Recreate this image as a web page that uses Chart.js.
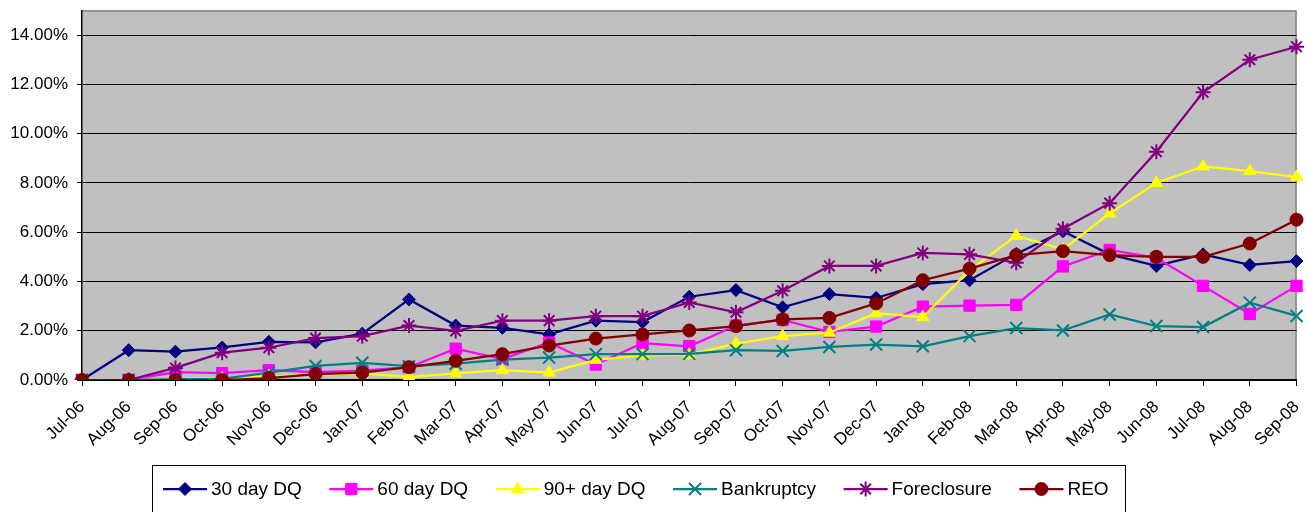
<!DOCTYPE html>
<html>
<head>
<meta charset="utf-8">
<title>Delinquency trend</title>
<script src="https://cdn.jsdelivr.net/npm/chart.js"></script>
<style>
  html, body { margin: 0; padding: 0; background: #fff; }
  #wrap { width: 1307px; height: 512px; }
</style>
</head>
<body>
<div id="wrap"><canvas id="dqChart" width="1307" height="512"></canvas></div>
<script>
'use strict';

// values are percent of loans
const months = ['Jul-06', 'Aug-06', 'Sep-06', 'Oct-06', 'Nov-06', 'Dec-06', 'Jan-07', 'Feb-07', 'Mar-07',
  'Apr-07', 'May-07', 'Jun-07', 'Jul-07', 'Aug-07', 'Sep-07', 'Oct-07', 'Nov-07', 'Dec-07', 'Jan-08',
  'Feb-08', 'Mar-08', 'Apr-08', 'May-08', 'Jun-08', 'Jul-08', 'Aug-08', 'Sep-08'];

const dq30 = [0, 1.21, 1.15, 1.32, 1.55, 1.53, 1.88, 3.27, 2.21, 2.12, 1.85, 2.41, 2.35, 3.38, 3.65, 2.95,
  3.49, 3.33, 3.89, 4.05, 5.12, 6.04, 5.10, 4.63, 5.10, 4.67, 4.83];
const dq60 = [0, 0, 0.32, 0.28, 0.40, 0.32, 0.38, 0.52, 1.27, 0.85, 1.52, 0.63, 1.50, 1.37, 2.21, 2.44,
  1.95, 2.17, 2.98, 3.02, 3.05, 4.61, 5.28, 4.96, 3.82, 2.68, 3.82];
const dq90 = [0, 0, 0.05, 0.06, 0.15, 0.22, 0.27, 0.12, 0.27, 0.40, 0.30, 0.82, 1.00, 1.03, 1.48, 1.78,
  1.92, 2.71, 2.55, 4.45, 5.86, 5.30, 6.76, 8.00, 8.67, 8.48, 8.24];
const bankruptcy = [0, 0, 0.04, 0.05, 0.30, 0.57, 0.70, 0.56, 0.66, 0.83, 0.91, 1.05, 1.05, 1.06, 1.21,
  1.18, 1.34, 1.44, 1.37, 1.78, 2.11, 2.01, 2.66, 2.19, 2.15, 3.14, 2.60];
const foreclosure = [0, 0, 0.49, 1.11, 1.31, 1.70, 1.78, 2.21, 1.99, 2.41, 2.41, 2.59, 2.59, 3.15, 2.75,
  3.62, 4.63, 4.63, 5.16, 5.10, 4.76, 6.14, 7.18, 9.27, 11.68, 13.00, 13.53];
const reo = [0, 0, 0, 0, 0.08, 0.24, 0.30, 0.52, 0.78, 1.05, 1.40, 1.68, 1.85, 2.01, 2.19, 2.46, 2.52,
  3.11, 4.05, 4.52, 5.07, 5.23, 5.07, 5.00, 5.00, 5.54, 6.51];

const yTicksMax = 15;
const yStep = 2;

const FONT = '"Liberation Sans", Arial, sans-serif';

function series(label, data, color, style, radius, order) {
  return {
    label: label,
    data: data,
    borderColor: color,
    backgroundColor: color,
    borderWidth: 2.25,
    pointStyle: style,
    pointRadius: radius,
    pointBorderWidth: (style === 'crossRot' || style === 'star') ? 2 : 1,
    pointHoverRadius: radius,
    tension: 0,
    order: order,
  };
}

const datasets = [
  series('30 day DQ', dq30, '#000080', 'rectRot', 6.5, 6),
  series('60 day DQ', dq60, '#FF00FF', 'rect', 8, 5),
  series('90+ day DQ', dq90, '#FFFF00', 'triangle', 7, 4),
  series('Bankruptcy', bankruptcy, '#008080', 'crossRot', 8.5, 3),
  series('Foreclosure', foreclosure, '#800080', 'star', 7.5, 2),
  series('REO', reo, '#800000', 'circle', 6.5, 1),
];

// keep the plot frame fixed: no extra room for half labels at the ends
function noEdgePadding(scale) {
  scale.paddingTop = 0;
  scale.paddingRight = 0;
  scale.paddingLeft = 0;
  scale.paddingBottom = 0;
}

// grey plot area with grey top/right frame, like the spreadsheet original
const plotBackground = {
  id: 'plotBackground',
  beforeDraw(chart) {
    const a = chart.chartArea;
    const ctx = chart.ctx;
    ctx.save();
    ctx.fillStyle = '#C0C0C0';
    ctx.fillRect(a.left, a.top, a.right - a.left, a.bottom - a.top);
    ctx.strokeStyle = '#808080';
    ctx.lineWidth = 1.5;
    ctx.beginPath();
    ctx.moveTo(a.left, a.top + 0.5);
    ctx.lineTo(a.right - 0.5, a.top + 0.5);
    ctx.lineTo(a.right - 0.5, a.bottom);
    ctx.stroke();
    ctx.restore();
  },
};

// boxed legend with line + marker samples
const lineLegend = {
  id: 'lineLegend',
  afterDraw(chart) {
    const ctx = chart.ctx;
    ctx.save();
    ctx.strokeStyle = '#000';
    ctx.lineWidth = 1;
    ctx.strokeRect(152.5, 465.5, 973, 60);
    ctx.font = '19px ' + FONT;
    ctx.textBaseline = 'middle';
    const y = 489;
    let x = 163;
    chart.data.datasets.forEach((ds) => {
      ctx.strokeStyle = ds.borderColor;
      ctx.fillStyle = ds.backgroundColor;
      ctx.lineWidth = ds.borderWidth;
      ctx.beginPath();
      ctx.moveTo(x, y);
      ctx.lineTo(x + 44, y);
      ctx.stroke();
      ctx.lineWidth = ds.pointBorderWidth;
      if (Chart.helpers && Chart.helpers.drawPoint) {
        Chart.helpers.drawPoint(ctx, {
          pointStyle: ds.pointStyle,
          radius: ds.pointRadius,
          borderWidth: ds.pointBorderWidth,
          rotation: 0,
        }, x + 22, y);
      }
      ctx.fillStyle = '#000';
      ctx.fillText(ds.label, x + 48, y + 1);
      x += 48 + ctx.measureText(ds.label).width + 27.5;
    });
    ctx.restore();
  },
};

new Chart(document.getElementById('dqChart'), {
  type: 'line',
  data: { labels: months, datasets: datasets },
  options: {
    responsive: false,
    animation: false,
    layout: { padding: { top: 8, right: 8, left: 0, bottom: 0 } },
    plugins: {
      legend: { display: false },
      tooltip: { enabled: false },
    },
    scales: {
      x: {
        type: 'category',
        offset: false,
        afterFit(scale) {
          scale.height = 132;
          noEdgePadding(scale);
        },
        grid: {
          drawOnChartArea: false,
          drawTicks: true,
          tickLength: 6,
          tickColor: '#000',
          lineWidth: 1,
        },
        border: { color: '#000', width: 1.5 },
        ticks: {
          autoSkip: false,
          minRotation: 45,
          maxRotation: 45,
          color: '#000',
          padding: 11,
          font: { family: FONT, size: 17 },
        },
      },
      y: {
        min: 0,
        max: yTicksMax,
        afterFit(scale) {
          scale.width = 82;
          noEdgePadding(scale);
        },
        grid: {
          color: '#000',
          lineWidth: 1,
          tickLength: 5,
          tickColor: '#000',
        },
        border: { color: '#000', width: 1.5 },
        ticks: {
          stepSize: yStep,
          includeBounds: false,
          color: '#000',
          padding: 9,
          font: { family: FONT, size: 17 },
          callback: (v) => v.toFixed(2) + '%',
        },
      },
    },
  },
  plugins: [plotBackground, lineLegend],
});
</script>
</body>
</html>
